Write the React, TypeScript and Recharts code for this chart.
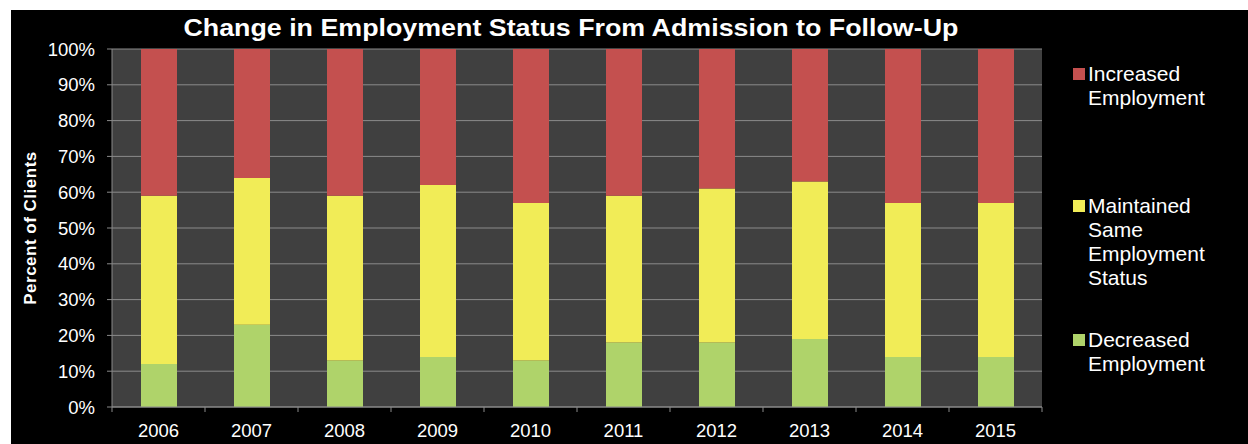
import { BarChart, Bar, XAxis, YAxis, CartesianGrid, Legend } from "recharts"

const years = ["2006", "2007", "2008", "2009", "2010", "2011", "2012", "2013", "2014", "2015"]
const decreased = [12, 23, 13, 14, 13, 18, 18, 19, 14, 14]
const maintained = [47, 41, 46, 48, 44, 41, 43, 44, 43, 43]
const increased = [41, 36, 41, 38, 43, 41, 39, 37, 43, 43]
const yTicks = [0, 10, 20, 30, 40, 50, 60, 70, 80, 90, 100]

const data = years.map((year, i) => ({
  year,
  decreased: decreased[i],
  maintained: maintained[i],
  increased: increased[i],
}))

const FONT = '"Liberation Sans", Arial, sans-serif'
const GRID = "#8a8a8a"
const TICK_SIZE = 5
const TICK_MARGIN = 12

const series = [
  { key: "decreased", name: "Decreased Employment", color: "#AFD36A" },
  { key: "maintained", name: "Maintained Same Employment Status", color: "#F1EC57" },
  { key: "increased", name: "Increased Employment", color: "#C4504F" },
]

// legend entries, top to bottom, with their vertical offset in the legend box
const legendRows = [
  { key: "increased", top: 52 },
  { key: "maintained", top: 184 },
  { key: "decreased", top: 318 },
]

function YearTick(props: any) {
  const { x, y, payload, index, width } = props
  const band = (width || 930) / years.length
  const axisY = y - TICK_SIZE - TICK_MARGIN
  return (
    <g>
      <line x1={x - band / 2} x2={x - band / 2} y1={axisY} y2={axisY + TICK_SIZE} stroke={GRID} />
      {index === years.length - 1 && (
        <line x1={x + band / 2} x2={x + band / 2} y1={axisY} y2={axisY + TICK_SIZE} stroke={GRID} />
      )}
      <text x={x} y={y} dy="0.71em" textAnchor="middle" fill="#fff" fontSize={18.5} fontFamily={FONT}>
        {payload.value}
      </text>
    </g>
  )
}

function LegendBox() {
  return (
    <div style={{ position: "relative", width: 175, height: 434, fontFamily: FONT }}>
      {legendRows.map((row) => {
        const s = series.find((d) => d.key === row.key)!
        return (
          <div key={row.key} style={{ position: "absolute", left: 0, top: row.top, display: "flex" }}>
            <div style={{ width: 12, height: 12, marginTop: 6, background: s.color, flexShrink: 0 }} />
            <div style={{ marginLeft: 3, width: 122, color: "#fff", fontSize: 21, lineHeight: "24px" }}>
              {s.name}
            </div>
          </div>
        )
      })}
    </div>
  )
}

export default function App() {
  return (
    <div
      style={{
        position: "absolute",
        left: 11,
        top: 10,
        width: 1237,
        height: 434,
        background: "#000",
        fontFamily: FONT,
      }}
    >
      <div
        style={{
          position: "absolute",
          left: 0,
          top: 6,
          width: 1120,
          textAlign: "center",
          color: "#fff",
          fontWeight: "bold",
          fontSize: 24,
          lineHeight: "24px",
          zIndex: 2,
        }}
      >
        <span style={{ display: "inline-block", transform: "scaleX(1.117)", whiteSpace: "nowrap" }}>
          Change in Employment Status From Admission to Follow-Up
        </span>
      </div>
      <BarChart
        width={1237}
        height={434}
        data={data}
        margin={{ top: 39, right: 206, left: 0, bottom: 0 }}
        barSize={36}
      >
        <CartesianGrid vertical={false} stroke={GRID} fill="#404040" />
        <XAxis
          dataKey="year"
          height={37}
          axisLine={{ stroke: GRID }}
          tickLine={false}
          tickSize={TICK_SIZE}
          tickMargin={TICK_MARGIN}
          tick={<YearTick />}
          interval={0}
        />
        <YAxis
          width={101}
          domain={[0, 100]}
          ticks={yTicks}
          tickFormatter={(v: number) => `${v}%`}
          axisLine={{ stroke: GRID }}
          tickLine={{ stroke: GRID }}
          tickSize={TICK_SIZE}
          tickMargin={TICK_MARGIN}
          tick={{ fill: "#fff", fontSize: 18.5, fontFamily: FONT }}
          label={{
            value: "Percent of Clients",
            angle: -90,
            position: "insideLeft",
            offset: 19,
            style: {
              textAnchor: "middle",
              fill: "#fff",
              fontWeight: "bold",
              fontSize: 17,
              letterSpacing: 0.5,
              fontFamily: FONT,
            },
          }}
        />
        <Legend
          layout="vertical"
          align="center"
          verticalAlign="middle"
          content={<LegendBox />}
          wrapperStyle={{ left: 1062, top: 0, width: 175, height: 434 }}
        />
        {series.map((s) => (
          <Bar key={s.key} dataKey={s.key} name={s.name} stackId="a" fill={s.color} isAnimationActive={false} />
        ))}
      </BarChart>
    </div>
  )
}
